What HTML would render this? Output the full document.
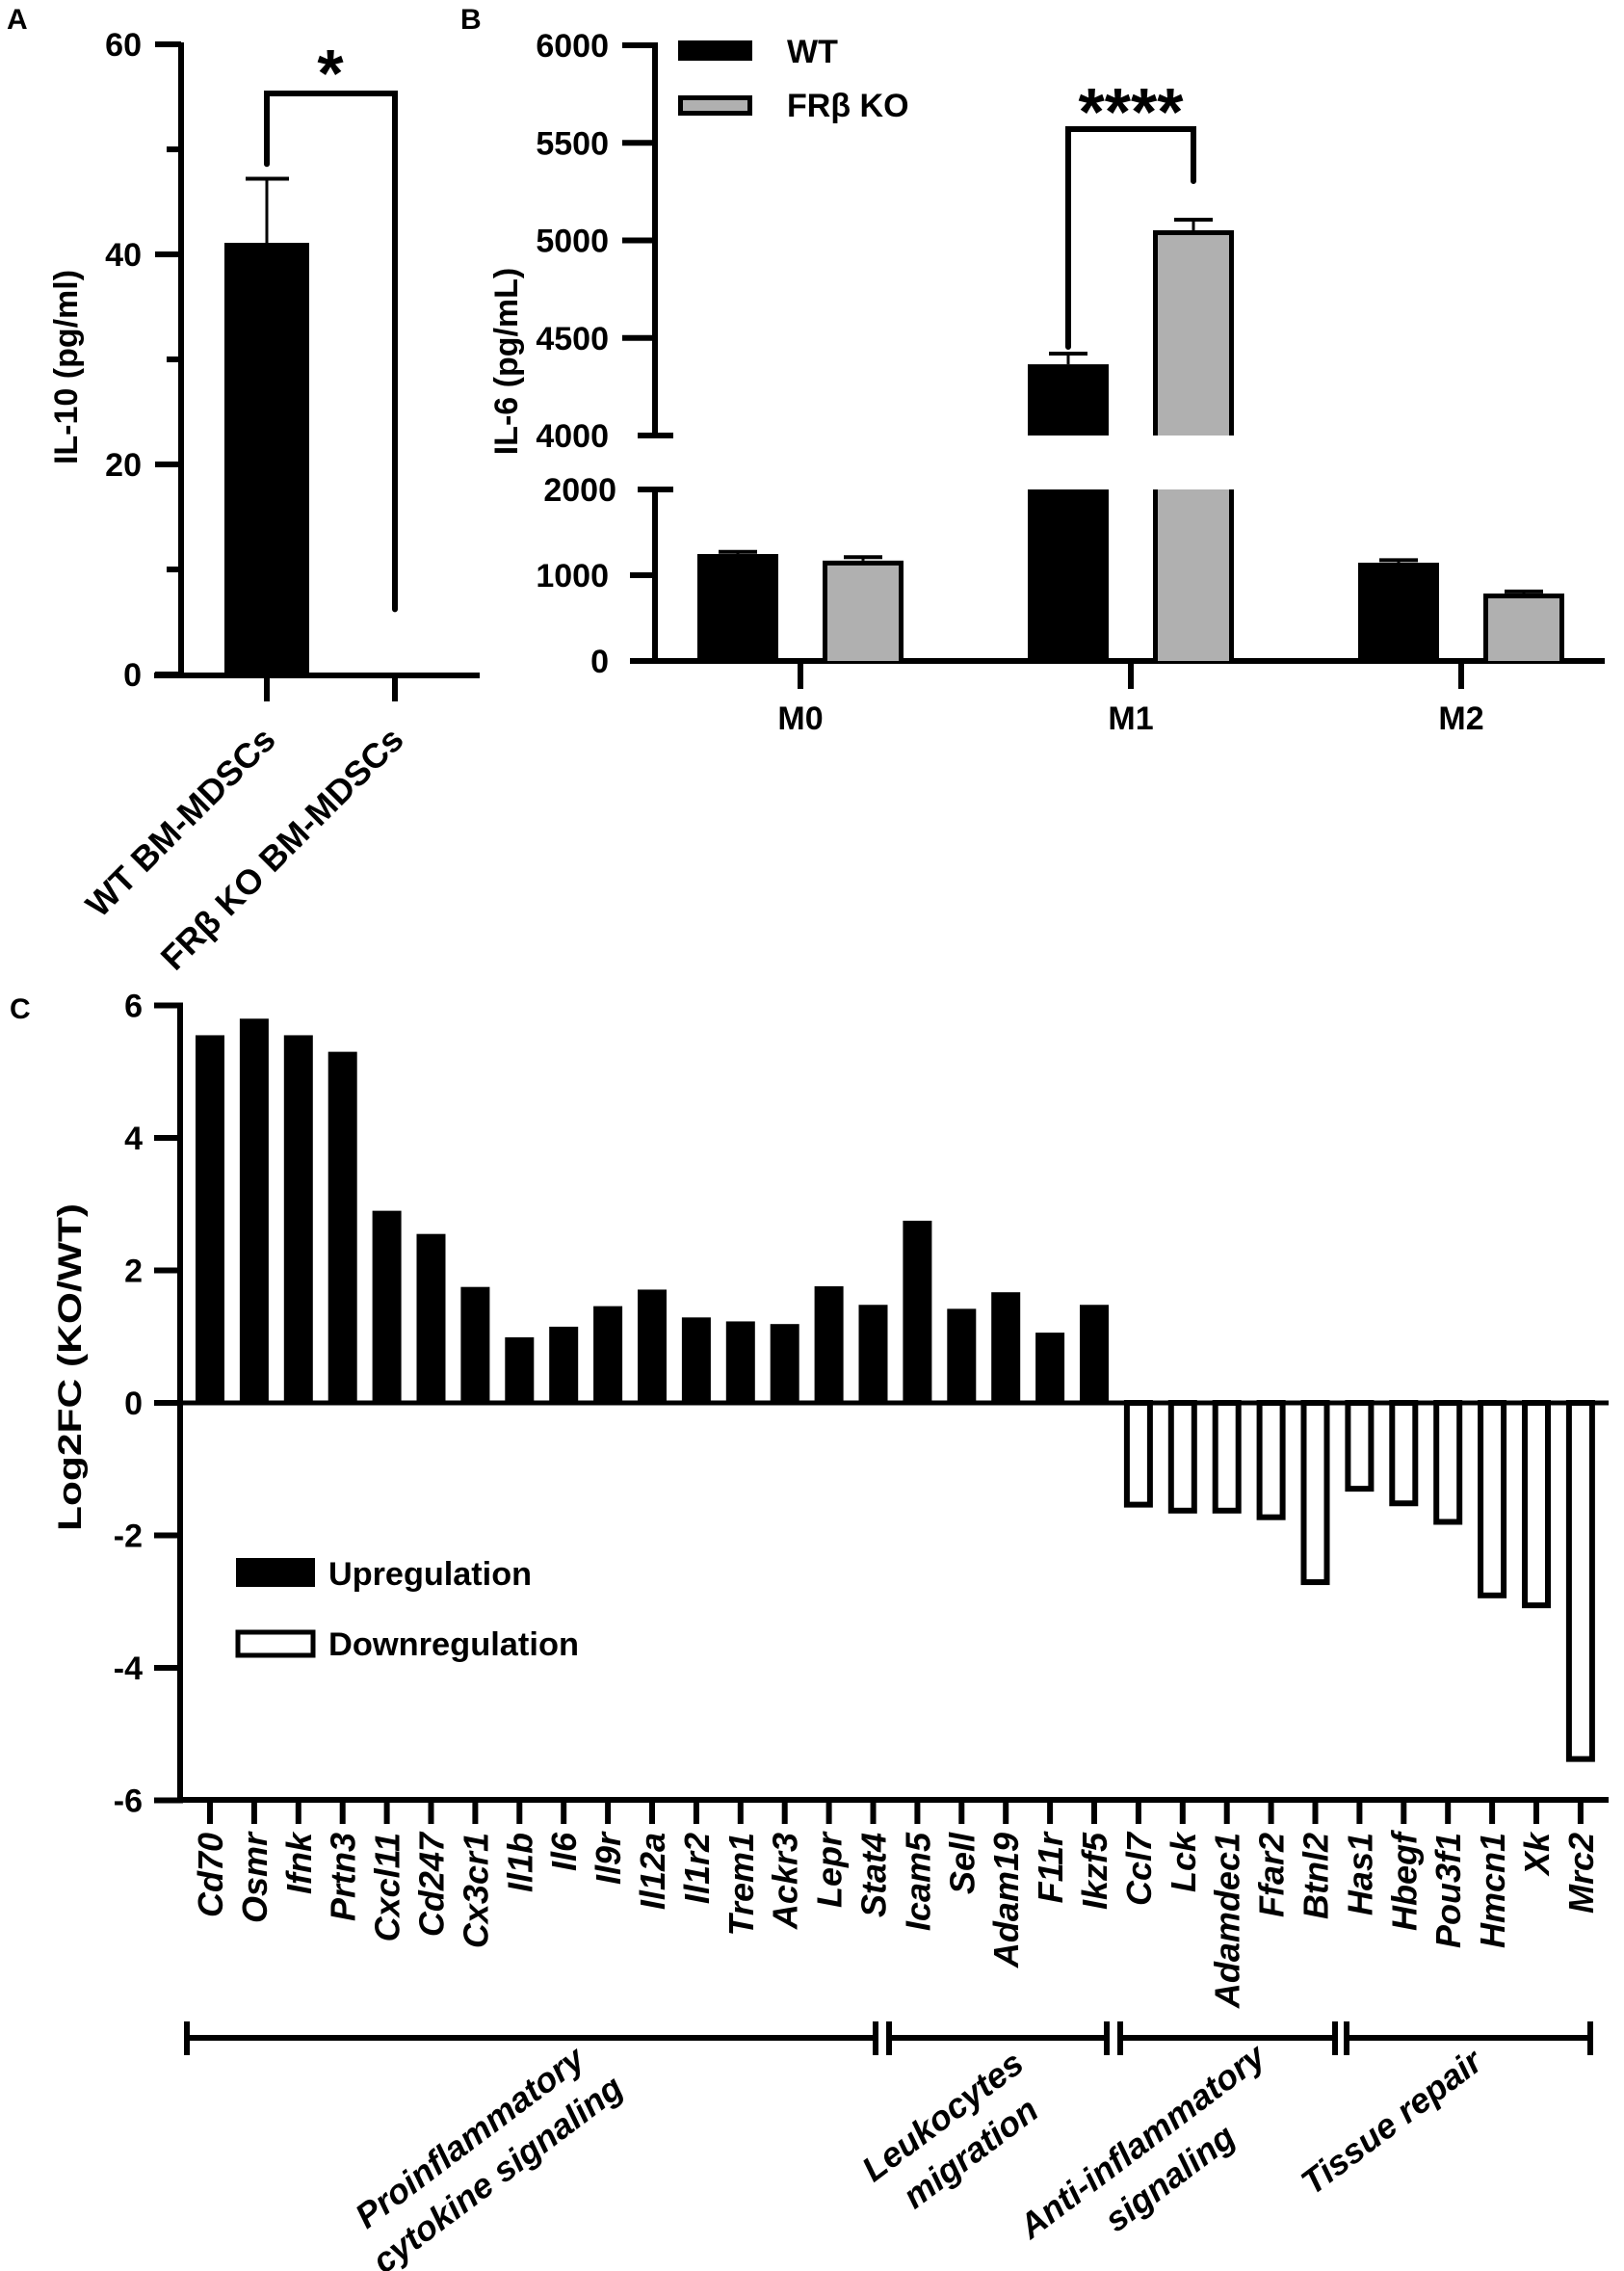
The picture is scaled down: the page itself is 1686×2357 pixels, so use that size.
<!DOCTYPE html>
<html><head><meta charset="utf-8"><style>
html,body{margin:0;padding:0;background:#fff;}
svg{display:block;font-family:"Liberation Sans",Arial,sans-serif;font-weight:bold;}
</style></head><body>
<svg id="fig" xmlns="http://www.w3.org/2000/svg" width="1686" height="2357" viewBox="0 0 1686 2357">
<rect width="1686" height="2357" fill="#fff"/>
<g id="pa"></g>
<g id="pb"></g>
<g id="pc"></g>
</svg>
<script>
// ---------- data ----------
const aCategories = ["WT BM-MDSCs", "FRβ KO BM-MDSCs"];
const aValues = [41.1, 0];
const aErrors = [6.1, 0];
const aTicks = [0, 20, 40, 60];

const bGroups = ["M0", "M1", "M2"];
const bWT = [1247, 4365, 1146];
const bWTErr = [25, 55, 30];
const bKO = [1170, 5052, 786];
const bKOErr = [40, 54, 25];
const bLowTicks = [0, 1000, 2000];
const bHighTicks = [4000, 4500, 5000, 5500, 6000];

const cGenes = ["Cd70","Osmr","Ifnk","Prtn3","Cxcl11","Cd247","Cx3cr1","Il1b","Il6","Il9r","Il12a","Il1r2","Trem1","Ackr3","Lepr","Stat4","Icam5","Sell","Adam19","F11r","Ikzf5","Ccl7","Lck","Adamdec1","Ffar2","Btnl2","Has1","Hbegf","Pou3f1","Hmcn1","Xk","Mrc2"];
const cValues = [5.55,5.8,5.55,5.3,2.9,2.55,1.75,0.99,1.15,1.46,1.71,1.29,1.23,1.19,1.76,1.48,2.75,1.42,1.67,1.06,1.48,-1.58,-1.67,-1.67,-1.77,-2.75,-1.34,-1.56,-1.84,-2.95,-3.1,-5.42];
const cTicks = [6,4,2,0,-2,-4,-6];

// ---------- helpers ----------
const NS = "http://www.w3.org/2000/svg";
function mk(parent, tag, attrs, txt){
  const e = document.createElementNS(NS, tag);
  for (const k in attrs) e.setAttribute(k, attrs[k]);
  if (txt !== undefined) e.textContent = txt;
  parent.appendChild(e);
  return e;
}
function line(p, x1,y1,x2,y2,w){ return mk(p,"line",{x1,y1,x2,y2,stroke:"#000","stroke-width":w||6}); }

// ---------- Panel A ----------
const pa = document.getElementById("pa");
const aY = v => 700 - v*10.9;
const aX = i => 277 + i*133;
let t = mk(pa,"text",{x:7,y:30,"font-size":30},"A");


line(pa,188,44,188,703,6);
line(pa,160,701,498,701,6);
aTicks.forEach(v=>{
  line(pa,161,aY(v),188,aY(v),6);
  const l = mk(pa,"text",{x:147,y:aY(v)+12,"font-size":34,"text-anchor":"end"},String(v));
  
  
});
[10,30,50].forEach(v=>line(pa,173,aY(v),188,aY(v),6));
aValues.forEach((v,i)=>{
  const cx = aX(i);
  if (v>0){
    const r = mk(pa,"rect",{x:cx-44,y:aY(v),width:88,height:aY(0)-aY(v),fill:"#000"});
    
    
    line(pa,cx,aY(v),cx,aY(v+aErrors[i]),3);
    line(pa,cx-22,aY(v+aErrors[i]),cx+23,aY(v+aErrors[i]),4);
  }
  line(pa,cx,701,cx,728,6);
  const lb = mk(pa,"text",{x:0,y:0,"font-size":36,"text-anchor":"end",transform:`translate(${cx+11},${770}) rotate(-45)`},aCategories[i]);
  
  
});
const brA = mk(pa,"path",{d:`M${aX(0)} ${aY(48.6)} V97 H${aX(1)} V${aY(6.2)}`,fill:"none",stroke:"#000","stroke-width":6,"stroke-linecap":"round"});


t = mk(pa,"text",{x:343,y:100,"font-size":70,"text-anchor":"middle"},"*");


t = mk(pa,"text",{x:0,y:0,"font-size":34,"text-anchor":"middle",transform:"translate(80,381) rotate(-90)"},"IL-10 (pg/ml)");



// ---------- Panel B ----------
const pb = document.getElementById("pb");
const yLow = v => 686 - v*0.089;
const yHigh = v => 452 - (v-4000)*0.2025;
const bY = v => v <= 2000 ? yLow(v) : yHigh(v);
const gX = i => 831 + i*343;
t = mk(pb,"text",{x:478,y:30,"font-size":30},"B");


line(pb,680,44,680,452,6);
line(pb,680,508,680,689,6);
line(pb,654,686,1666,686,6);
bHighTicks.forEach(v=>{
  const x2 = v===4000 ? 699 : 680;
  line(pb,v===4000?662:646,yHigh(v),x2,yHigh(v),6);
  const l = mk(pb,"text",{x:632,y:yHigh(v)+12,"font-size":34,"text-anchor":"end"},String(v));
  
  
});
bLowTicks.forEach(v=>{
  const x1 = v===2000 ? 662 : 654;
  const x2 = v===2000 ? 699 : 680;
  if (v!==0) line(pb,x1,yLow(v),x2,yLow(v),6);
  const l = mk(pb,"text",{x:v===2000?640:632,y:yLow(v)+12,"font-size":34,"text-anchor":"end"},String(v));
  
  
});
function bBar(cx, v, err, gray, name){
  const g = mk(pb,"g",{});
  
  
  const x0 = cx-42, x1 = cx+42;
  const fill = gray ? "#b0b0b0" : "#000";
  const sw = 5;
  if (v <= 2000){
    mk(g,"rect",{x:x0,y:yLow(v),width:84,height:686-yLow(v),fill});
    if (gray) mk(g,"path",{d:`M${x0+2.5} 686 V${yLow(v)+2.5} H${x1-2.5} V686`,fill:"none",stroke:"#000","stroke-width":sw});
  } else {
    mk(g,"rect",{x:x0,y:508,width:84,height:178,fill});
    mk(g,"rect",{x:x0,y:yHigh(v),width:84,height:452-yHigh(v),fill});
    if (gray){
      mk(g,"path",{d:`M${x0+2.5} 686 V508 M${x1-2.5} 686 V508`,fill:"none",stroke:"#000","stroke-width":sw});
      mk(g,"path",{d:`M${x0+2.5} 452 V${yHigh(v)+2.5} H${x1-2.5} V452`,fill:"none",stroke:"#000","stroke-width":sw});
    }
  }
  const yt = bY(v), ye = bY(v+err);
  line(g,cx,yt,cx,ye,3);
  line(g,cx-20,ye,cx+20,ye,4);
}
bGroups.forEach((gname,i)=>{
  bBar(gX(i)-65,bWT[i],bWTErr[i],false,'bar-wt-'+gname.toLowerCase());
  bBar(gX(i)+65,bKO[i],bKOErr[i],true,'bar-ko-'+gname.toLowerCase());
  line(pb,gX(i),686,gX(i),715,6);
  const l = mk(pb,"text",{x:gX(i),y:757,"font-size":34,"text-anchor":"middle"},gname);
  
  
});
// bracket M1
const brB = mk(pb,"path",{d:`M${gX(1)-65} ${bY(bWT[1]+bWTErr[1])-7} V134 H${gX(1)+65} V${bY(bKO[1]+bKOErr[1])-40}`,fill:"none",stroke:"#000","stroke-width":6,"stroke-linecap":"round"});


t = mk(pb,"text",{x:gX(1),y:140,"font-size":70,"text-anchor":"middle"},"****");


// legend
let lg = mk(pb,"g",{});


mk(lg,"rect",{x:704,y:42,width:77,height:21,fill:"#000"});
mk(lg,"text",{x:817,y:65,"font-size":34},"WT");
lg = mk(pb,"g",{});


mk(lg,"rect",{x:706.5,y:101.5,width:72,height:16,fill:"#b0b0b0",stroke:"#000","stroke-width":5});
mk(lg,"text",{x:817,y:121,"font-size":34},"FRβ KO");
t = mk(pb,"text",{x:0,y:0,"font-size":34,"text-anchor":"middle",transform:"translate(537,375) rotate(-90)"},"IL-6 (pg/mL)");



// ---------- Panel C ----------
const pc = document.getElementById("pc");
const cY = v => 1456 - v*68.75;
const cX = i => 218 + i*45.9;
t = mk(pc,"text",{x:10,y:1057,"font-size":30},"C");


line(pc,187,cY(6)-3,187,cY(-6)+3,6);
cTicks.forEach(v=>{
  line(pc,160,cY(v),187,cY(v),6);
  const l = mk(pc,"text",{x:148,y:cY(v)+12,"font-size":34,"text-anchor":"end"},String(v));
  
  
});
cValues.forEach((v,i)=>{
  const cx = cX(i);
  let r;
  if (v >= 0){
    r = mk(pc,"rect",{x:cx-15,y:cY(v),width:30,height:cY(0)-cY(v),fill:"#000"});
  } else {
    r = mk(pc,"rect",{x:cx-12,y:cY(0),width:24,height:cY(v)-cY(0)-3,fill:"#fff",stroke:"#000","stroke-width":6});
  }
  
  
  line(pc,cx,1868,cx,1893,6);
  const l = mk(pc,"text",{x:0,y:0,"font-size":36,"font-style":"italic","text-anchor":"end",transform:`translate(${cx+13},1902) rotate(-90)`},cGenes[i]);
  
  
});
line(pc,187,cY(0),1670,cY(0),5);
line(pc,184,1868,1670,1868,6);
// category brackets
const segs = [[194,909,"Proinflammatory","cytokine signaling",495,2228],[923,1149,"Leukocytes","migration",986,2206],[1163,1386,"Anti-inflammatory","signaling",1193,2232],[1398,1651,"Tissue repair","",1452,2212]];
segs.forEach(s=>{
  const g = mk(pc,"g",{});
  
  
  line(g,s[0],2115,s[1],2115,6);
  line(g,s[0],2098,s[0],2133,6);
  line(g,s[1],2098,s[1],2133,6);
  const tx = mk(g,"text",{x:0,y:0,"font-size":36,"font-style":"italic","text-anchor":"middle",transform:`translate(${s[4]},${s[5]}) rotate(-37)`});
  mk(tx,"tspan",{x:0,y:0},s[2]);
  if (s[3]) mk(tx,"tspan",{x:0,y:48},s[3]);
});
// legend C
lg = mk(pc,"g",{});


mk(lg,"rect",{x:245,y:1617,width:82,height:30,fill:"#000"});
mk(lg,"text",{x:341,y:1645,"font-size":34,textLength:211,lengthAdjust:"spacingAndGlyphs"},"Upregulation");
lg = mk(pc,"g",{});


mk(lg,"rect",{x:247,y:1694,width:78,height:24,fill:"#fff",stroke:"#000","stroke-width":5});
mk(lg,"text",{x:341,y:1718,"font-size":34,textLength:260,lengthAdjust:"spacingAndGlyphs"},"Downregulation");
t = mk(pc,"text",{x:0,y:0,"font-size":34,"text-anchor":"middle",textLength:340,lengthAdjust:"spacingAndGlyphs",transform:"translate(84,1419) rotate(-90)"},"Log2FC (KO/WT)");


</script>
</body></html>
